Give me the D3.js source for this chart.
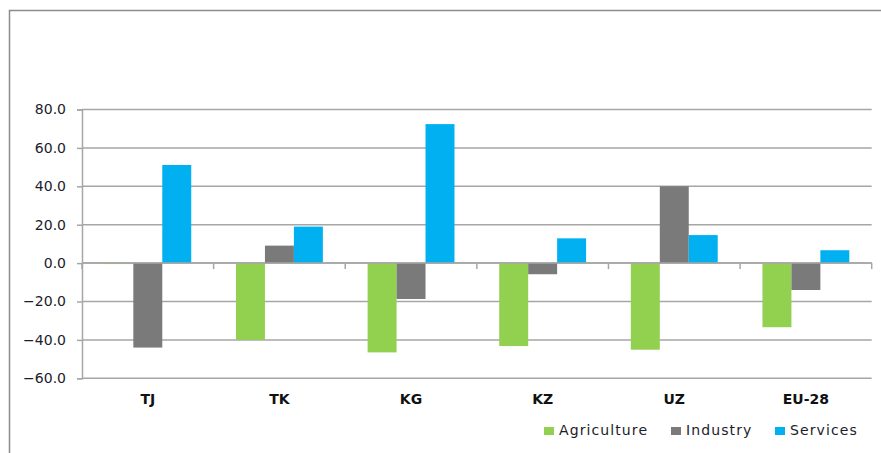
<!DOCTYPE html>
<html>
<head>
<meta charset="utf-8">
<script src="https://cdn.jsdelivr.net/npm/d3@7"></script>
<style>
  html, body { margin: 0; padding: 0; background: #fff; }
  svg { display: block; font-family: "DejaVu Sans", Verdana, sans-serif; }
</style>
</head>
<body>
<svg id="chart" width="881" height="453"></svg>
<script>
// Change in employment share by sector (percentage points)
const categories = ["TJ", "TK", "KG", "KZ", "UZ", "EU-28"];
const seriesNames = ["Agriculture", "Industry", "Services"];
const agriculture = [-0.5, -40.0, -46.5, -43.2, -45.1, -33.4];
const industry    = [-44.0, 9.1, -18.7, -5.8, 40.0, -14.0];
const services    = [51.1, 19.0, 72.4, 12.9, 14.6, 6.7];
const yTicks = [-60, -40, -20, 0, 20, 40, 60, 80];
const colors = ["#92D050", "#7A7A7A", "#00B0F0"];

(function () {
  const values = [agriculture, industry, services];
  const rows = categories.map((c, i) => ({
    cat: c,
    vals: seriesNames.map((s, j) => ({ key: s, value: values[j][i] }))
  }));

  const svg = d3.select("#chart");

  // frame around the chart area
  svg.append("path")
    .attr("d", "M9.5,453 L9.5,10.5 L881,10.5")
    .attr("fill", "none")
    .attr("stroke", "#8c8c8c")
    .attr("stroke-width", 1.5);

  const plotLeft = 82, plotRight = 871.7, plotTop = 109.5, plotBottom = 378.3;

  const x0 = d3.scaleBand().domain(categories).range([plotLeft, plotRight]).paddingInner(0).paddingOuter(0);
  const groupW = x0.bandwidth() * 0.66;
  const x1 = d3.scaleBand().domain(seriesNames).range([0, groupW]).padding(0);
  const y = d3.scaleLinear().domain([-60, 80]).range([plotBottom, plotTop]);

  // horizontal gridlines
  svg.append("g")
    .selectAll("line")
    .data(yTicks)
    .join("line")
    .attr("x1", plotLeft).attr("x2", plotRight)
    .attr("y1", d => y(d)).attr("y2", d => y(d))
    .attr("stroke", "#a6a6a6")
    .attr("stroke-width", 1.5);

  // bars
  const groups = svg.append("g")
    .selectAll("g")
    .data(rows)
    .join("g")
    .attr("transform", d => `translate(${x0(d.cat) + (x0.bandwidth() - groupW) / 2},0)`);

  groups.selectAll("rect")
    .data(d => d.vals)
    .join("rect")
    .attr("x", d => x1(d.key))
    .attr("width", x1.bandwidth())
    .attr("y", d => y(Math.max(0, d.value)))
    .attr("height", d => Math.abs(y(d.value) - y(0)))
    .attr("fill", (d, i) => colors[i]);

  // y axis
  const yAxis = d3.axisLeft(y).tickValues(yTicks).tickSize(5).tickPadding(11)
    .tickFormat(d3.format(".1f"));
  const gy = svg.append("g").attr("transform", `translate(${plotLeft},0)`).call(yAxis);
  gy.select(".domain").attr("stroke", "#a6a6a6").attr("stroke-width", 1.5);
  gy.selectAll(".tick line").attr("stroke", "#a6a6a6").attr("stroke-width", 1.5);
  gy.selectAll(".tick text")
    .attr("font-size", 14)
    .attr("font-family", "DejaVu Sans, Verdana, sans-serif")
    .attr("fill", "#1c1c2a");

  // category axis along zero
  const zeroY = y(0);
  svg.append("line")
    .attr("x1", plotLeft).attr("x2", plotRight)
    .attr("y1", zeroY).attr("y2", zeroY)
    .attr("stroke", "#a6a6a6").attr("stroke-width", 1.5);
  const boundaries = categories.map(c => x0(c) + x0.bandwidth()).concat([plotLeft]);
  svg.append("g")
    .selectAll("line")
    .data(boundaries)
    .join("line")
    .attr("x1", d => d).attr("x2", d => d)
    .attr("y1", zeroY).attr("y2", zeroY + 6)
    .attr("stroke", "#a6a6a6").attr("stroke-width", 1.5);

  // category labels
  svg.append("g")
    .selectAll("text")
    .data(categories)
    .join("text")
    .attr("x", d => x0(d) + x0.bandwidth() / 2)
    .attr("y", 404)
    .attr("text-anchor", "middle")
    .attr("font-size", 14)
    .attr("font-weight", "bold")
    .attr("fill", "#111")
    .text(d => d);

  // legend
  const legendX = [544, 671, 775];
  const legend = svg.append("g")
    .selectAll("g")
    .data(seriesNames)
    .join("g")
    .attr("transform", (d, i) => `translate(${legendX[i]},427)`);
  legend.append("rect")
    .attr("width", 10).attr("height", 8)
    .attr("fill", (d, i) => colors[i]);
  legend.append("text")
    .attr("x", 15).attr("y", 8)
    .attr("font-size", 14)
    .attr("letter-spacing", 1.1)
    .attr("fill", "#1c1c2a")
    .text(d => d);
})();
</script>
</body>
</html>
